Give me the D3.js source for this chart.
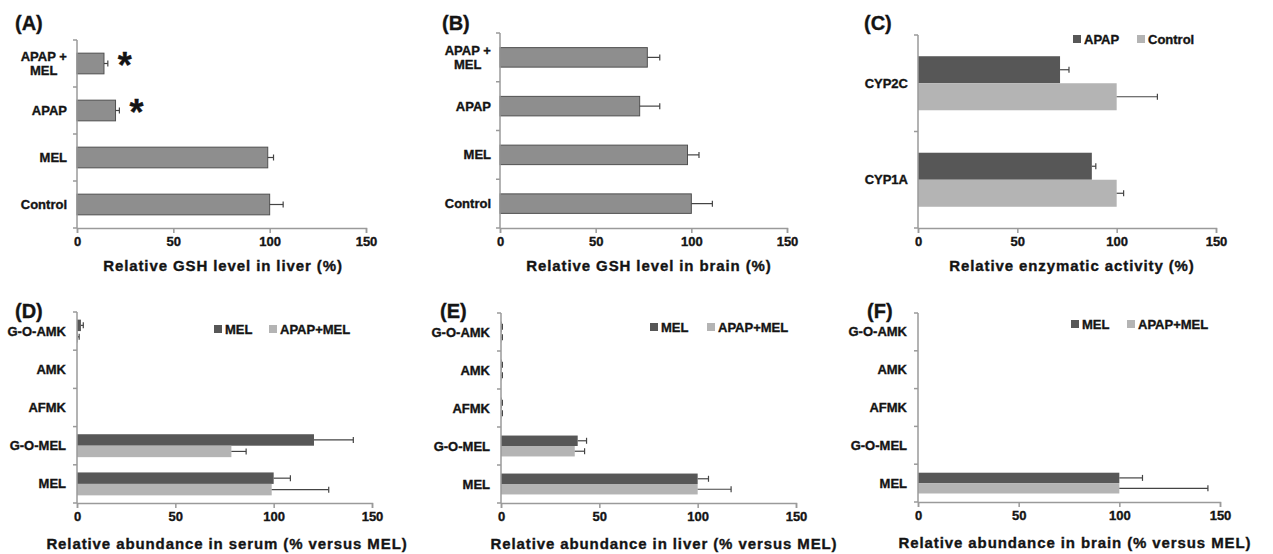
<!DOCTYPE html>
<html>
<head>
<meta charset="utf-8">
<script src="https://cdn.jsdelivr.net/npm/d3@7"></script>
<style>
  body { margin: 0; background: #fff; }
  svg text { font-family: "Liberation Sans", Arial, sans-serif; font-weight: bold; fill: #141414;
             stroke: #141414; stroke-width: 0.35px; }
</style>
</head>
<body>
<svg id="fig" width="1273" height="554"></svg>
<script>
// ---- data ----
var xTicks = [0, 50, 100, 150];

// (A) / (B) GSH levels, categories top to bottom
var gshGroups = ["APAP +\nMEL", "APAP", "MEL", "Control"];
var gshLiver = [14, 20, 99, 100];
var gshLiverErr = [2, 2, 3, 7];
var gshLiverSig = [true, true, false, false];
var gshBrain = [77, 73, 98, 100];
var gshBrainErr = [6.5, 10.5, 6, 11];

// (C) enzymatic activity
var enzymes = ["CYP2C", "CYP1A"];
var enzApap = [71.5, 87.5];
var enzApapErr = [4.5, 2];
var enzControl = [100, 100];
var enzControlErr = [20.5, 3.5];

// (D)-(F) melatonin metabolites
var metabolites = ["G-O-AMK", "AMK", "AFMK", "G-O-MEL", "MEL"];
var serumMel = [2, 0, 0, 120.5, 100];
var serumMelErr = [1.2, 0, 0, 20, 8.5];
var serumApapMel = [0.5, 0, 0, 78.5, 99];
var serumApapMelErr = [0.6, 0, 0, 7.5, 29];
var liverMel = [0.3, 0.3, 0.3, 39, 100];
var liverMelErr = [0.4, 0.4, 0.4, 4.5, 5.5];
var liverApapMel = [0.3, 0.3, 0.3, 37.5, 100];
var liverApapMelErr = [0.4, 0.4, 0.4, 5, 17];
var brainMel = [0, 0, 0, 0, 100];
var brainMelErr = [0, 0, 0, 0, 11.5];
var brainApapMel = [0, 0, 0, 0, 100];
var brainApapMelErr = [0, 0, 0, 0, 44];

var darkGray = "#575757", lightGray = "#b4b4b4", midGray = "#8e8e8e";
var axisColor = "#9a9a9a";

var svg = d3.select("#fig");

function drawPanel(p) {
  var g = svg.append("g");

  var x = d3.scaleLinear().domain([0, 150]).range([p.x0, p.x1]);
  var y = d3.scaleBand().domain(p.categories)
    .range([p.top, p.bottom])
    .paddingInner(p.pad).paddingOuter(p.pad / 2);
  var names = p.series.map(function(s) { return s.name; });
  var inner = d3.scaleBand().domain(names).range([0, y.bandwidth()]);

  // bars + error bars
  p.series.forEach(function(s) {
    var rows = p.categories.map(function(c, i) {
      return { cat: c, v: s.values[i], e: s.errors[i] };
    });
    g.selectAll(null).data(rows).enter().append("rect")
      .attr("x", x(0))
      .attr("y", function(d) { return y(d.cat) + inner(s.name); })
      .attr("width", function(d) { return x(d.v) - x(0); })
      .attr("height", inner.bandwidth())
      .attr("fill", s.color)
      .attr("stroke", s.stroke || "none")
      .attr("stroke-width", 1);

    var errs = rows.filter(function(d) { return d.e > 0; });
    var cy = function(d) { return y(d.cat) + inner(s.name) + inner.bandwidth() / 2; };
    g.selectAll(null).data(errs).enter().append("line")
      .attr("x1", function(d) { return x(d.v); })
      .attr("x2", function(d) { return x(d.v + d.e); })
      .attr("y1", cy).attr("y2", cy)
      .attr("stroke", "#444").attr("stroke-width", 1.2);
    g.selectAll(null).data(errs).enter().append("line")
      .attr("x1", function(d) { return x(d.v + d.e); })
      .attr("x2", function(d) { return x(d.v + d.e); })
      .attr("y1", function(d) { return cy(d) - 3; })
      .attr("y2", function(d) { return cy(d) + 3; })
      .attr("stroke", "#444").attr("stroke-width", 1.2);

    if (s.sig) {
      g.selectAll(null).data(rows.filter(function(d, i) { return s.sig[i]; }))
        .enter().append("text")
        .attr("x", function(d) { return x(d.v + d.e) + 17; })
        .attr("y", function(d) { return y(d.cat) + y.bandwidth() / 2 + 14; })
        .attr("text-anchor", "middle")
        .style("font-size", "36px")
        .text("*");
    }
  });

  // x axis
  var xAxis = g.append("g")
    .attr("transform", "translate(0," + p.bottom + ")")
    .call(d3.axisBottom(x).tickValues(xTicks).tickSize(5).tickSizeOuter(5).tickPadding(4));
  xAxis.selectAll("path, line").attr("stroke", axisColor).attr("stroke-width", 1.5);
  xAxis.selectAll("text")
    .style("font-size", "13px").style("font-family", "'Liberation Sans', Arial, sans-serif")
    .style("font-weight", "bold").attr("fill", "#141414");

  // y axis: line + ticks at category boundaries
  g.append("line")
    .attr("x1", p.x0).attr("x2", p.x0)
    .attr("y1", p.top).attr("y2", p.bottom)
    .attr("stroke", axisColor).attr("stroke-width", 1.5);
  var bounds = d3.range(p.categories.length + 1).map(function(i) {
    return y.range()[0] + i * y.step();
  });
  g.selectAll(null).data(bounds).enter().append("line")
    .attr("x1", p.x0 - 4).attr("x2", p.x0)
    .attr("y1", function(d) { return d; }).attr("y2", function(d) { return d; })
    .attr("stroke", axisColor).attr("stroke-width", 1.5);

  // category labels (multi-line labels centred on their widest line)
  p.categories.forEach(function(c) {
    var lines = c.split("\n");
    var cyc = y(c) + y.bandwidth() / 2;
    var t = g.append("text")
      .attr("text-anchor", lines.length > 1 ? "middle" : "end")
      .style("font-size", "13px");
    lines.forEach(function(l, i) {
      t.append("tspan")
        .attr("x", p.labelRight)
        .attr("y", cyc + 4.5 + (i - (lines.length - 1) / 2) * 13.5)
        .text(l);
    });
    if (lines.length > 1) {
      var w = t.node().getBBox().width;
      t.selectAll("tspan").attr("x", p.labelRight - w / 2);
    }
  });

  // axis title
  g.append("text")
    .attr("x", p.titleX).attr("y", p.bottom + p.titleDy)
    .attr("text-anchor", "middle")
    .style("font-size", "15px").style("letter-spacing", "0.9px")
    .text(p.title);

  // panel letter
  g.append("text")
    .attr("x", p.letterX).attr("y", p.letterY)
    .style("font-size", "20px")
    .text(p.letter);

  // legend
  if (p.legendX) {
    p.series.forEach(function(s, i) {
      g.append("rect")
        .attr("x", p.legendX[i]).attr("y", p.legendY - 4)
        .attr("width", 8).attr("height", 8)
        .attr("fill", s.color);
      g.append("text")
        .attr("x", p.legendX[i] + 11).attr("y", p.legendY + 4.5)
        .style("font-size", "13px")
        .text(s.name);
    });
  }
}

drawPanel({
  letter: "(A)", letterX: 15, letterY: 30,
  x0: 77, x1: 366, top: 40, bottom: 228, pad: 0.56,
  categories: gshGroups, labelRight: 67,
  series: [{ name: "GSH", values: gshLiver, errors: gshLiverErr, color: midGray, stroke: "#505050", sig: gshLiverSig }],
  title: "Relative GSH level in liver (%)", titleX: 223, titleDy: 43
});

drawPanel({
  letter: "(B)", letterX: 442, letterY: 30,
  x0: 500, x1: 787, top: 33, bottom: 228, pad: 0.6,
  categories: gshGroups, labelRight: 491,
  series: [{ name: "GSH", values: gshBrain, errors: gshBrainErr, color: midGray, stroke: "#505050" }],
  title: "Relative GSH level in brain (%)", titleX: 649, titleDy: 43
});

drawPanel({
  letter: "(C)", letterX: 864, letterY: 30,
  x0: 918, x1: 1216, top: 35, bottom: 228, pad: 0.44,
  categories: enzymes, labelRight: 908,
  series: [
    { name: "APAP", values: enzApap, errors: enzApapErr, color: darkGray },
    { name: "Control", values: enzControl, errors: enzControlErr, color: lightGray }
  ],
  legendX: [1073, 1137], legendY: 39,
  title: "Relative enzymatic activity (%)", titleX: 1072, titleDy: 43
});

drawPanel({
  letter: "(D)", letterX: 15, letterY: 318,
  x0: 77, x1: 372, top: 312, bottom: 503, pad: 0.4,
  categories: metabolites, labelRight: 66,
  series: [
    { name: "MEL", values: serumMel, errors: serumMelErr, color: darkGray },
    { name: "APAP+MEL", values: serumApapMel, errors: serumApapMelErr, color: lightGray }
  ],
  legendX: [214, 269], legendY: 329,
  title: "Relative abundance in serum (% versus MEL)", titleX: 227, titleDy: 46
});

drawPanel({
  letter: "(E)", letterX: 440, letterY: 318,
  x0: 501, x1: 796, top: 313, bottom: 503, pad: 0.45,
  categories: metabolites, labelRight: 490,
  series: [
    { name: "MEL", values: liverMel, errors: liverMelErr, color: darkGray },
    { name: "APAP+MEL", values: liverApapMel, errors: liverApapMelErr, color: lightGray }
  ],
  legendX: [650, 707], legendY: 327,
  title: "Relative abundance in liver (% versus MEL)", titleX: 664, titleDy: 46
});

drawPanel({
  letter: "(F)", letterX: 867, letterY: 318,
  x0: 918, x1: 1220, top: 313, bottom: 502, pad: 0.45,
  categories: metabolites, labelRight: 907,
  series: [
    { name: "MEL", values: brainMel, errors: brainMelErr, color: darkGray },
    { name: "APAP+MEL", values: brainApapMel, errors: brainApapMelErr, color: lightGray }
  ],
  legendX: [1071, 1127], legendY: 324,
  title: "Relative abundance in brain (% versus MEL)", titleX: 1075, titleDy: 46
});
</script>
</body>
</html>
